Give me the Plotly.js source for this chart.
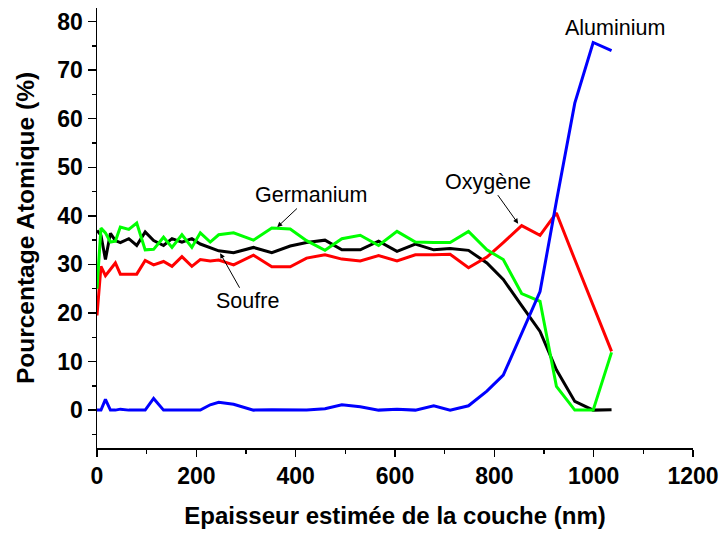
<!DOCTYPE html>
<html>
<head>
<meta charset="utf-8">
<script src="https://cdn.plot.ly/plotly-3.0.1.min.js"></script>
<style>
html,body{margin:0;padding:0;background:#fff;}
#chart{width:725px;height:536px;}
.xtick text, .ytick text, .xtick tspan, .ytick tspan { font-weight: 700 !important; }
</style>
</head>
<body>
<div id="chart"></div>
<script>
// Depth (nm)
var depth = [0, 8, 17, 27, 37, 47, 64, 80, 97, 114, 134, 151, 171, 191, 208, 228, 245, 275, 315, 352, 389, 422, 459, 493, 530, 567, 604, 641, 678, 711, 748, 785, 818, 855, 892, 925, 962, 999, 1036];
// Atomic percentages
var soufre    = [37, 36, 31, 36.4, 34.9, 34.5, 35.3, 33.9, 36.7, 34.9, 33.9, 35.3, 34.6, 35.3, 34.2, 33.5, 32.8, 32.4, 33.5, 32.4, 33.8, 34.5, 35, 33, 33, 34.8, 32.7, 34.2, 33, 33.3, 32.9, 30.3, 26.9, 21.5, 16.2, 8.3, 1.8, 0, 0.1];
var oxygene   = [19.5, 29.6, 27.7, 29, 30.3, 28, 28, 28, 30.8, 29.9, 30.6, 29.6, 31.6, 29.6, 31, 30.7, 30.9, 29.9, 31.9, 29.5, 29.5, 31.3, 32, 31.1, 30.7, 31.8, 30.7, 32, 32, 32.1, 29.3, 31.5, 34.5, 38, 36, 40.6, 31, 21.5, 12.1];
var germanium = [25, 37.5, 36.5, 34.6, 34.8, 37.7, 37.2, 38.5, 33, 33.1, 35.6, 33.5, 36.1, 33.5, 36.5, 34.6, 36.1, 36.5, 35, 37.5, 37.3, 34.9, 32.9, 35.3, 36, 33.9, 36.8, 34.6, 34.5, 34.5, 36.8, 33, 31, 24, 22.4, 4.9, 0, 0, 11.9];
var aluminium = [0, 0, 2.2, 0, 0, 0.2, 0, 0, 0, 2.4, 0, 0, 0, 0, 0, 1.1, 1.6, 1.2, 0, 0.1, 0, 0, 0.3, 1.1, 0.7, 0, 0.2, 0, 0.9, 0, 0.9, 3.9, 7.2, 15.8, 24.4, 43, 63.2, 75.7, 74];

// Tick labels
var xTickVals = [0, 200, 400, 600, 800, 1000, 1200];
var xTickText = ['0', '200', '400', '600', '800', '1000', '1200'];
var yTickVals = [0, 10, 20, 30, 40, 50, 60, 70, 80];
var yTickText = ['0', '10', '20', '30', '40', '50', '60', '70', '80'];

var seriesNames = ['Soufre', 'Oxygène', 'Germanium', 'Aluminium'];
var seriesData = [soufre, oxygene, germanium, aluminium];
var seriesColors = ['#000000', '#ff0000', '#00ff00', '#0000ff'];

var traces = seriesData.map(function (ys, i) {
  return {
    x: depth, y: ys, name: seriesNames[i], type: 'scatter', mode: 'lines',
    line: {color: seriesColors[i], width: 3}
  };
});

function bold(arr) { return arr.map(function (t) { return '<b>' + t + '</b>'; }); }

var fontFam = 'Liberation Sans, Arial, Helvetica, sans-serif';
var annFont = {family: fontFam, size: 21.5, color: '#000'};

var layout = {
  width: 725, height: 536,
  margin: {l: 97, r: 32, t: 8, b: 88},
  paper_bgcolor: '#fff', plot_bgcolor: '#fff',
  showlegend: false,
  font: {family: fontFam, color: '#000'},
  xaxis: {
    range: [0, 1200], tickmode: 'array', tickvals: xTickVals, ticktext: bold(xTickText),
    showgrid: false, zeroline: false,
    showline: true, linecolor: '#000', linewidth: 1.5,
    ticks: 'outside', ticklen: 7, tickwidth: 1.5, tickcolor: '#000',
    minor: {dtick: 100, tick0: 0, ticks: 'outside', ticklen: 4, tickwidth: 1.5, tickcolor: '#000', showgrid: false},
    tickfont: {family: fontFam, size: 23, color: '#000', weight: 'bold'},
    title: {text: '<b>Epaisseur estimée de la couche (nm)</b>', font: {family: fontFam, size: 24, color: '#000'}, standoff: 19}
  },
  yaxis: {
    range: [-7.8, 82.8], tickmode: 'array', tickvals: yTickVals, ticktext: bold(yTickText),
    showgrid: false, zeroline: false,
    showline: true, linecolor: '#000', linewidth: 1.5,
    ticks: 'outside', ticklen: 8, tickwidth: 1.5, tickcolor: '#000',
    minor: {dtick: 5, tick0: 0, ticks: 'outside', ticklen: 4, tickwidth: 1.5, tickcolor: '#000', showgrid: false},
    tickfont: {family: fontFam, size: 23, color: '#000', weight: 'bold'},
    title: {text: '<b>Pourcentage Atomique (%)</b>', font: {family: fontFam, size: 24.5, color: '#000'}, standoff: 15}
  },
  annotations: [
    {x: 1043, y: 78.6, text: 'Aluminium', showarrow: false, font: annFont},
    {x: 848, y: 38.4, text: 'Oxygène', showarrow: true, ax: -30, ay: -42,
      arrowhead: 2, arrowsize: 1, arrowwidth: 1, arrowcolor: '#000', font: annFont},
    {x: 363, y: 37.7, text: 'Germanium', showarrow: true, ax: 34, ay: -32,
      arrowhead: 2, arrowsize: 1, arrowwidth: 1, arrowcolor: '#000', font: annFont},
    {x: 248, y: 32.3, text: 'Soufre', showarrow: true, ax: 27, ay: 48,
      arrowhead: 2, arrowsize: 1, arrowwidth: 1, arrowcolor: '#000', font: annFont}
  ]
};

Plotly.newPlot('chart', traces, layout, {displayModeBar: false, staticPlot: true});
</script>
</body>
</html>
